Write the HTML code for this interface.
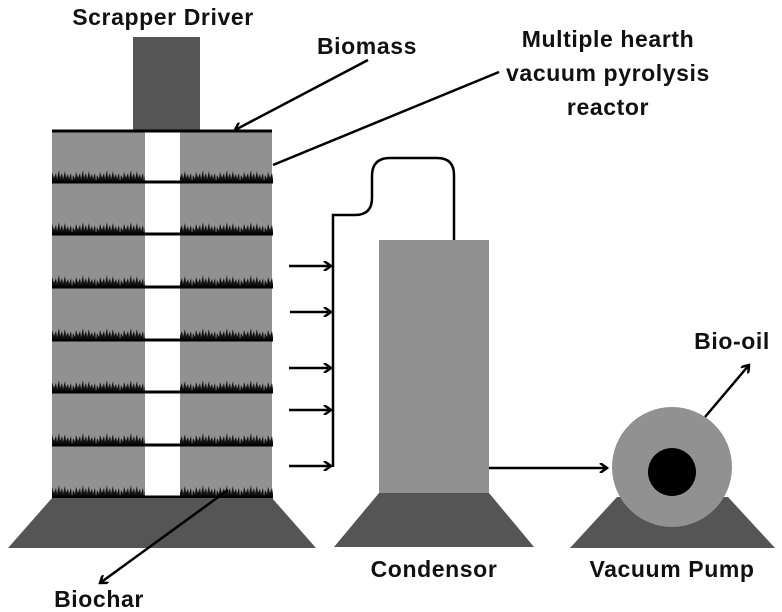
<!DOCTYPE html>
<html><head><style>html,body{margin:0;padding:0;background:#fff}svg{display:block}text{font-family:"Liberation Sans",sans-serif;font-weight:bold;fill:#111;letter-spacing:0.6px}</style></head><body>
<svg width="782" height="612" viewBox="0 0 782 612" xmlns="http://www.w3.org/2000/svg">
<defs>
<pattern id="g" x="0" y="0" width="24" height="13" patternUnits="userSpaceOnUse">
<path d="M0 13 L1 6 L3 10 L4 3 L6 9 L8 4 L9 10 L11 1 L12 9 L14 4 L15 10 L17 2 L18 9 L20 5 L21 10 L23 4 L24 13 Z" fill="#111"/>
</pattern>
<marker id="a" markerWidth="10" markerHeight="10" refX="8" refY="5" orient="auto" markerUnits="userSpaceOnUse"><path d="M1 0 L8 5 L1 10" fill="none" stroke="#000" stroke-width="2.5"/></marker>
<g id="row"><rect x="52" y="0" width="93" height="13" fill="url(#g)"/><rect x="180" y="0" width="93" height="13" fill="url(#g)"/></g>
</defs>
<rect x="133" y="37" width="67" height="94" fill="#555"/>
<rect x="52" y="131" width="93" height="366" fill="#919191"/>
<rect x="180" y="131" width="92" height="366" fill="#919191"/>
<line x1="52" y1="131" x2="272" y2="131" stroke="#000" stroke-width="3"/>
<use href="#row" transform="translate(0,169)"/>
<use href="#row" transform="translate(0,221)"/>
<use href="#row" transform="translate(0,274)"/>
<use href="#row" transform="translate(0,327)"/>
<use href="#row" transform="translate(0,379)"/>
<use href="#row" transform="translate(0,432)"/>
<use href="#row" transform="translate(0,484)"/>
<g stroke="#000" stroke-width="3">
<line x1="52" y1="182" x2="273" y2="182"/><line x1="52" y1="234" x2="273" y2="234"/>
<line x1="52" y1="287" x2="273" y2="287"/><line x1="52" y1="340" x2="273" y2="340"/>
<line x1="52" y1="392" x2="273" y2="392"/><line x1="52" y1="445" x2="273" y2="445"/>
<line x1="52" y1="497" x2="273" y2="497"/>
</g>
<polygon points="52,498 272,498 316,548 8,548" fill="#555"/>
<g stroke="#000" stroke-width="2.5" fill="none">
<line x1="289" y1="266" x2="331" y2="266" marker-end="url(#a)"/>
<line x1="290" y1="312" x2="331" y2="312" marker-end="url(#a)"/>
<line x1="289" y1="368" x2="331" y2="368" marker-end="url(#a)"/>
<line x1="289" y1="410" x2="331" y2="410" marker-end="url(#a)"/>
<line x1="289" y1="466" x2="331" y2="466" marker-end="url(#a)"/>
<path d="M333 467 L333 215 L355 215 Q372 215 372 198 L372 176 Q372 158 390 158 L437 158 Q454 158 454 175 L454 240"/>
<line x1="489" y1="468" x2="607" y2="468" marker-end="url(#a)"/>
<line x1="368" y1="60" x2="235" y2="130" marker-end="url(#a)"/>
<line x1="273" y1="165" x2="499" y2="72"/>
<line x1="228" y1="490" x2="100" y2="583" marker-end="url(#a)"/>
<line x1="705" y1="417" x2="749" y2="365" marker-end="url(#a)"/>
</g>
<rect x="379" y="240" width="110" height="253" fill="#919191"/>
<polygon points="379,493 489,493 534,547 334,547" fill="#555"/>
<polygon points="617,497 728,497 775,548 570,548" fill="#555"/>
<circle cx="672" cy="467" r="60" fill="#919191"/>
<circle cx="672" cy="472" r="24" fill="#000"/>
<text x="163" y="25" font-size="23" text-anchor="middle">Scrapper Driver</text>
<text x="367" y="54" font-size="23" text-anchor="middle">Biomass</text>
<text x="608" y="47" font-size="23" text-anchor="middle">Multiple hearth</text>
<text x="608" y="81" font-size="23" text-anchor="middle">vacuum pyrolysis</text>
<text x="608" y="115" font-size="23" text-anchor="middle">reactor</text>
<text x="99" y="607" font-size="23" text-anchor="middle">Biochar</text>
<text x="434" y="577" font-size="23" text-anchor="middle">Condensor</text>
<text x="672" y="577" font-size="23" text-anchor="middle">Vacuum Pump</text>
<text x="732" y="349" font-size="23" text-anchor="middle">Bio-oil</text>
</svg>
</body></html>
